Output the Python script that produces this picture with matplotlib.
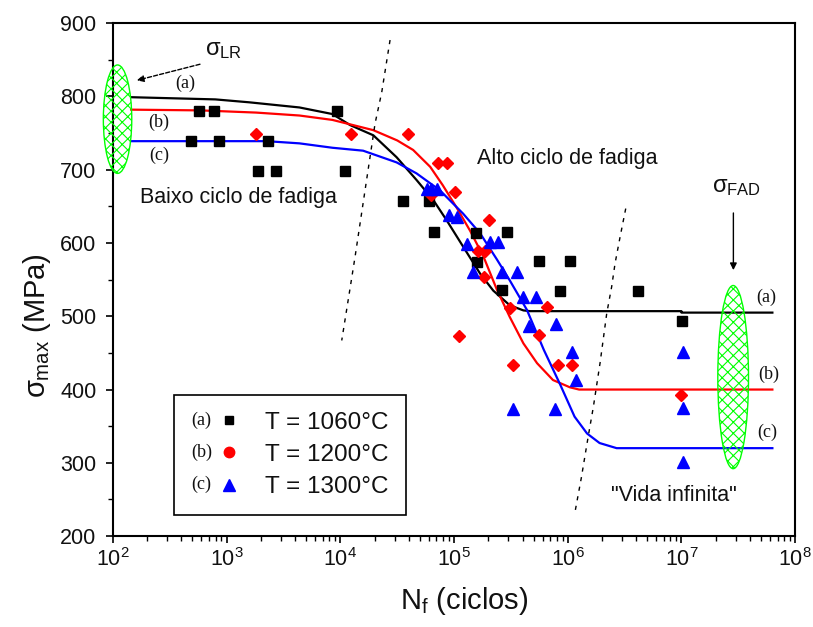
import numpy as np
import matplotlib
matplotlib.use('Agg')
import matplotlib.pyplot as plt
from matplotlib.patches import Ellipse
from matplotlib.lines import Line2D
from matplotlib.text import Text
from matplotlib.legend_handler import HandlerBase
from matplotlib.ticker import MultipleLocator, LogLocator, NullFormatter

plt.rcParams['font.family'] = ['Liberation Sans', 'DejaVu Sans']
plt.rcParams['mathtext.fontset'] = 'custom'
plt.rcParams['mathtext.rm'] = 'Liberation Sans'
plt.rcParams['mathtext.it'] = 'Liberation Sans'
plt.rcParams['mathtext.bf'] = 'Liberation Sans:bold'
plt.rcParams['hatch.linewidth'] = 0.8

# measured points: log10(N) and sigma_max (MPa)
a_logN = [2.757, 2.891, 2.683, 2.935, 3.366, 3.278, 3.434, 3.968, 4.041, 4.554,
          4.777, 4.824, 5.19, 5.463, 5.205, 5.42, 5.75, 6.02, 5.93, 6.615, 7.008]
a_smax = [780, 780, 739, 739, 739, 698, 698, 780, 698, 658,
          658, 615, 614, 615, 574, 536, 575, 575, 534, 535, 493]

b_logN = [3.255, 4.094, 4.592, 4.856, 4.941, 5.009, 4.80, 5.305, 5.21, 5.27,
          5.26, 5.49, 5.815, 5.75, 5.04, 5.52, 5.91, 6.035, 7.0]
b_smax = [749, 749, 749, 709, 709, 670, 665, 631, 589, 589,
          553, 511, 512, 474, 473, 433, 433, 433, 393]

c_logN = [4.76, 4.80, 4.848, 4.959, 5.03, 5.11, 5.317, 5.39, 5.17, 5.42,
          5.55, 5.61, 5.72, 5.66, 5.90, 6.04, 6.07, 5.52, 5.89, 7.01, 7.01, 7.01]
c_smax = [674, 674, 674, 638, 636, 599, 601, 601, 560, 560,
          560, 526, 526, 487, 490, 451, 413, 374, 374, 451, 375, 301]

# fitted curves
fa_logN = [2.16, 2.9, 3.2, 3.64, 3.93, 4.085, 4.29, 4.495, 4.67, 4.82, 4.935,
           5.08, 5.23, 5.345, 5.49, 5.61, 5.67, 7.0, 7.0, 7.8]
fa_smax = [799, 796, 792, 785, 776, 761, 747, 717, 686, 658, 631,
           595, 558, 535, 515, 508, 507, 507, 505, 505]

fb_logN = [2.16, 2.77, 3.26, 3.64, 3.93, 4.29, 4.5, 4.64, 4.79, 4.9, 5.02,
           5.14, 5.26, 5.375, 5.49, 5.61, 5.73, 5.87, 6.02, 6.1, 7.8]
fb_smax = [782, 781, 778, 774, 768, 754, 740, 727, 704, 679, 649,
           617, 581, 537, 499, 463, 436, 413, 403, 400, 400]

fc_logN = [2.16, 3.35, 3.64, 3.93, 4.2, 4.495, 4.67, 4.875, 5.08, 5.23, 5.375,
           5.49, 5.64, 5.79, 5.93, 6.06, 6.17, 6.28, 6.43, 7.8]
fc_smax = [739, 739, 736, 730, 726, 710, 695, 672, 640, 613, 578,
           549, 509, 454, 408, 363, 340, 327, 320, 320]

# dashed regime boundaries
d1_logN = [4.437, 4.364, 4.305, 4.217, 4.129, 4.085, 4.012]
d1_smax = [877, 806, 763, 672, 581, 538, 467]
d2_logN = [6.51, 6.46, 6.416, 6.386, 6.343, 6.284, 6.225, 6.18, 6.12, 6.064]
d2_smax = [647, 608, 572, 540, 504, 436, 376, 336, 280, 233]

labels = ['T = 1060°C', 'T = 1200°C', 'T = 1300°C']
tags = ['(a)', '(b)', '(c)']
txt = '#111111'


class TagHandler(HandlerBase):
    def __init__(self, tag, marker, color, ms):
        super().__init__()
        self.tag, self.marker, self.color, self.ms = tag, marker, color, ms

    def create_artists(self, legend, orig_handle, xdescent, ydescent,
                       width, height, fontsize, trans):
        y = -ydescent + height / 2.
        t = Text(-xdescent, y, self.tag, fontsize=13, family='Liberation Serif',
                 color=txt, va='center', ha='left', transform=trans)
        m = Line2D([-xdescent + width - 3], [y], ls='none', marker=self.marker,
                   color=self.color, ms=self.ms, transform=trans)
        return [t, m]


def frac(logN, s):
    return (logN - 2.) / 6., (s - 200.) / 700.


fig = plt.figure(figsize=(8.13, 6.27), dpi=100)
ax = fig.add_axes([0.139, 0.145, 0.839, 0.818])

ax.plot(10 ** np.array(fa_logN), fa_smax, color='k', lw=1.6)
ax.plot(10 ** np.array(fb_logN), fb_smax, color='#ff0000', lw=1.6)
ax.plot(10 ** np.array(fc_logN), fc_smax, color='#0000ff', lw=1.6)

ha, = ax.plot(10 ** np.array(a_logN), a_smax, 's', color='k', ms=6.5, ls='none')
hb, = ax.plot(10 ** np.array(b_logN), b_smax, 'D', color='#ff0000', ms=6.3, ls='none')
hc, = ax.plot(10 ** np.array(c_logN), c_smax, '^', color='#0000ff', ms=8.5, ls='none')

ax.plot(10 ** np.array(d1_logN), d1_smax, color='k', lw=1, ls=(0, (3, 4)))
ax.plot(10 ** np.array(d2_logN), d2_smax, color='k', lw=1, ls=(0, (3, 4)))

# hatched ellipses
for lg, s, w, h in [(2.04, 769, 0.25, 148), (7.455, 417, 0.27, 250)]:
    cx, cy = frac(lg, s)
    e = Ellipse((cx, cy), w / 6., h / 700., transform=ax.transAxes, clip_on=False,
                facecolor='none', edgecolor='#00ff00', hatch='xxx', lw=1, zorder=4)
    ax.add_patch(e)

ax.set_xscale('log')
ax.set_xlim(1e2, 1e8)
ax.set_ylim(200, 900)
ax.set_xticks(10.0 ** np.arange(2, 9))
ax.xaxis.set_minor_locator(LogLocator(base=10, subs=np.arange(2, 10), numticks=20))
ax.xaxis.set_minor_formatter(NullFormatter())
ax.yaxis.set_major_locator(MultipleLocator(100))
ax.yaxis.set_minor_locator(MultipleLocator(50))
ax.tick_params(which='both', direction='out', top=False, right=False, colors='k',
               labelcolor=txt)
ax.tick_params(which='major', length=5, width=1.2, labelsize=15.5)
ax.tick_params(axis='y', which='major', pad=7)
ax.tick_params(which='minor', length=3.5, width=1.0)
for sp in ax.spines.values():
    sp.set_linewidth(1.5)

ax.set_xlabel(r'N$_{\rm f}$ (ciclos)', fontsize=21, color=txt)
ax.set_ylabel(r'$\sigma_{\rm max}$ (MPa)', fontsize=21, color=txt)
ax.xaxis.set_label_coords(0.515, -0.095)
ax.yaxis.set_label_coords(-0.088, 0.41)

# annotations
ax.text(10 ** 2.24, 662, 'Baixo ciclo de fadiga', fontsize=15.5, color=txt, va='center')
ax.text(10 ** 5.2, 715, 'Alto ciclo de fadiga', fontsize=15.5, color=txt, va='center')
ax.text(10 ** 6.935, 255, '"Vida infinita"', fontsize=15.5, color=txt, va='center', ha='center')

for lg, s, t in [(2.633, 818, '(a)'), (2.40, 765, '(b)'), (2.41, 720, '(c)'),
                 (7.75, 526, '(a)'), (7.765, 421, '(b)'), (7.757, 341, '(c)')]:
    ax.text(10 ** lg, s, t, fontsize=13, family='Liberation Serif', color=txt,
            ha='center', va='center')

ax.text(10 ** 2.81, 863, r'$\sigma_{\rm LR}$', fontsize=17, color=txt, va='center')
ax.annotate('', xy=(10 ** 2.21, 822), xytext=(10 ** 2.765, 844),
            arrowprops=dict(arrowstyle='-|>', color='k', lw=1, ls=(0, (3, 1.5)),
                            mutation_scale=10, shrinkA=0, shrinkB=0))
ax.text(10 ** 7.27, 676, r'$\sigma_{\rm FAD}$', fontsize=17, color=txt, va='center')
ax.annotate('', xy=(10 ** 7.457, 563), xytext=(10 ** 7.457, 641),
            arrowprops=dict(arrowstyle='-|>', color='k', lw=1,
                            mutation_scale=10, shrinkA=0, shrinkB=0))

hm = {ha: TagHandler(tags[0], 's', 'k', 6),
      hb: TagHandler(tags[1], 'o', '#ff0000', 7.5),
      hc: TagHandler(tags[2], '^', '#0000ff', 8.5)}
leg = ax.legend([ha, hb, hc], labels, handler_map=hm, loc='lower left',
                bbox_to_anchor=(0.0894, 0.041), borderaxespad=0, fontsize=17.5,
                frameon=True, fancybox=False, edgecolor='k', framealpha=1,
                handlelength=1.75, handletextpad=1.3, borderpad=0.7, labelspacing=0.42)
leg.get_frame().set_linewidth(1.2)
for t in leg.get_texts():
    t.set_color(txt)

fig.savefig('out.png', dpi=100)
